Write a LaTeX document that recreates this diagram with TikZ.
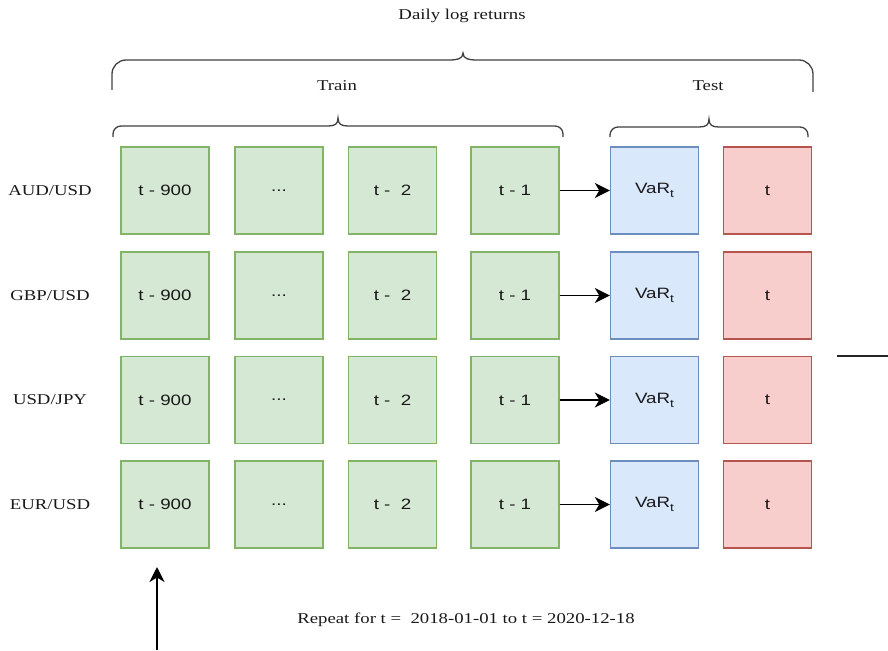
\documentclass[tikz,border=0pt]{standalone}
\usepackage{fontspec}
\usepackage{graphicx}
\setmainfont{Liberation Serif}
\setsansfont{Liberation Sans}
\usetikzlibrary{arrows.meta}
\definecolor{trfill}{HTML}{D5E8D4}
\definecolor{trline}{HTML}{82B366}
\definecolor{vafill}{HTML}{DAE8FC}
\definecolor{valine}{HTML}{6C8EBF}
\definecolor{tsfill}{HTML}{F8CECC}
\definecolor{tsline}{HTML}{B85450}
\newcommand{\sx}[1]{\scalebox{1.25}[1]{#1}}
\newcommand{\subt}{\raisebox{-4pt}{\fontsize{11}{12}\selectfont t}}
\tikzset{
  lbl/.style={font=\rmfamily\fontsize{15}{18}\selectfont, text=black!90, inner sep=0pt},
  cell/.style={minimum width=88pt, minimum height=87pt, line width=1.4pt, inner sep=0pt,
               font=\sffamily\fontsize{15}{18}\selectfont, text=black!90},
  traincell/.style={cell, fill=trfill, draw=trline},
  varcell/.style={cell, fill=vafill, draw=valine},
  testcell/.style={cell, fill=tsfill, draw=tsline},
  brace/.style={line width=1.3pt, draw=black!75},
  conn/.style={line width=1.6pt, -{Stealth[length=15pt,width=15pt,inset=4.5pt]}}
}
\begin{document}
\begin{tikzpicture}[x=1pt,y=-1pt]
\useasboundingbox (0,0) rectangle (888,650);

% titles
\node[lbl] (daily) at (462,16) {\sx{Daily log returns}};
\node[lbl] (train) at (337,86) {\sx{Train}};
\node[lbl] (test) at (708,86) {\sx{Test}};

% big brace
\draw[brace] (112,90) -- (112,74) arc[start angle=180,end angle=270,radius=14] -- (449,60)
  .. controls (457,60) and (463,59) .. (463,53)
  .. controls (463,59) and (469,60) .. (477,60)
  -- (799,60) arc[start angle=270,end angle=360,radius=14] -- (813,92);
% train brace
\draw[brace] (113,137) -- (113,134) arc[start angle=180,end angle=270,radius=8] -- (328,126)
  .. controls (335,126) and (338,124) .. (338,118)
  .. controls (338,124) and (341,126) .. (348,126)
  -- (555,126) arc[start angle=270,end angle=360,radius=8] -- (563,137);
% test brace
\draw[brace] (610,137) -- (610,135) arc[start angle=180,end angle=270,radius=8] -- (699,127)
  .. controls (706,127) and (709,125) .. (709,119)
  .. controls (709,125) and (712,127) .. (719,127)
  -- (800,127) arc[start angle=270,end angle=360,radius=8] -- (808,137);

% rows
\foreach \r/\y/\name in {1/190.5/AUD\slash USD, 2/295.5/GBP\slash USD, 3/400/USD\slash JPY, 4/504.5/EUR\slash USD}{
  \node[lbl] (lab\r) at (50,\y) {\sx{\name}};
  \node[traincell] (a\r) at (165,\y) {\sx{t - 900}};
  \node[traincell] (b\r) at (279,\y) {\sx{...}};
  \node[traincell] (c\r) at (392.5,\y) {\sx{t -\ \ 2}};
  \node[traincell] (d\r) at (515,\y) {\sx{t - 1}};
  \node[varcell] (v\r) at (654.5,\y) {\sx{VaR\subt}};
  \node[testcell] (t\r) at (767.5,\y) {\sx{t}};
  \draw[conn] (d\r) -- (v\r);
}

% repeat
\node[lbl] (rep) at (466,620) {\sx{Repeat for t =\ \ 2018-01-01 to t = 2020-12-18}};
\coordinate (arrfoot) at (157,650);
\coordinate (arrtip) at (157,567);
\draw[conn] (arrfoot) -- (arrtip);

% stray line at right
\coordinate (ls) at (837,356);
\coordinate (le) at (888,356);
\draw[line width=1.3pt, black!85] (ls) -- (le);
\end{tikzpicture}
\end{document}
